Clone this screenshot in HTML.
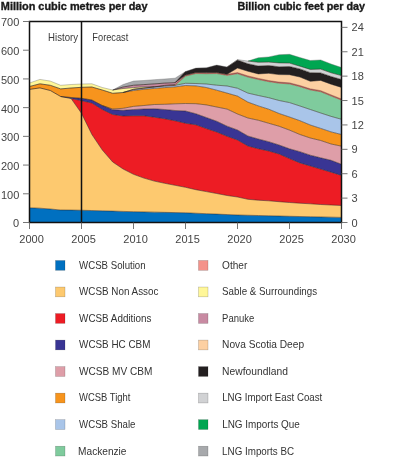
<!DOCTYPE html>
<html><head><meta charset="utf-8"><style>
html,body{margin:0;padding:0;background:#fff;}
svg{display:block;will-change:transform;}
text{font-family:"Liberation Sans",sans-serif;}
</style></head><body>
<svg width="400" height="464" viewBox="0 0 400 464">
<rect width="400" height="464" fill="#fff"/>
<polygon points="29.50,207.80 39.90,208.20 50.30,209.00 60.70,210.00 71.10,210.10 81.50,210.25 91.90,210.54 102.30,210.83 112.70,211.12 123.10,211.41 133.50,211.70 143.90,211.92 154.30,212.14 164.70,212.36 175.10,212.58 185.50,212.80 195.90,213.24 206.30,213.68 216.70,214.12 227.10,214.56 237.50,215.00 247.90,215.26 258.30,215.52 268.70,215.78 279.10,216.04 289.50,216.30 299.90,216.52 310.30,216.74 320.70,216.96 331.10,217.18 341.50,217.40 341.50,222.50 331.10,222.50 320.70,222.50 310.30,222.50 299.90,222.50 289.50,222.50 279.10,222.50 268.70,222.50 258.30,222.50 247.90,222.50 237.50,222.50 227.10,222.50 216.70,222.50 206.30,222.50 195.90,222.50 185.50,222.50 175.10,222.50 164.70,222.50 154.30,222.50 143.90,222.50 133.50,222.50 123.10,222.50 112.70,222.50 102.30,222.50 91.90,222.50 81.50,222.50 71.10,222.50 60.70,222.50 50.30,222.50 39.90,222.50 29.50,222.50" fill="#0070c0"/>
<polygon points="29.50,89.40 39.90,87.90 50.30,90.50 60.70,96.50 71.10,98.50 81.50,113.30 91.90,134.50 102.30,150.00 112.70,162.00 123.10,169.00 133.50,174.30 143.90,178.10 154.30,181.10 164.70,183.30 175.10,185.30 185.50,187.30 195.90,189.70 206.30,191.60 216.70,193.50 227.10,195.50 237.50,197.00 247.90,199.30 258.30,200.20 268.70,200.80 279.10,201.70 289.50,202.50 299.90,203.20 310.30,203.80 320.70,204.50 331.10,205.00 341.50,205.50 341.50,217.40 331.10,217.18 320.70,216.96 310.30,216.74 299.90,216.52 289.50,216.30 279.10,216.04 268.70,215.78 258.30,215.52 247.90,215.26 237.50,215.00 227.10,214.56 216.70,214.12 206.30,213.68 195.90,213.24 185.50,212.80 175.10,212.58 164.70,212.36 154.30,212.14 143.90,211.92 133.50,211.70 123.10,211.41 112.70,211.12 102.30,210.83 91.90,210.54 81.50,210.25 71.10,210.10 60.70,210.00 50.30,209.00 39.90,208.20 29.50,207.80" fill="#fdc96f"/>
<polygon points="29.50,89.40 39.90,87.90 50.30,90.50 60.70,96.50 71.10,98.50 81.50,100.70 91.90,103.00 102.30,109.50 112.70,114.50 123.10,116.00 133.50,115.80 143.90,115.80 154.30,117.20 164.70,118.80 175.10,120.80 185.50,123.30 195.90,124.80 206.30,128.60 216.70,132.00 227.10,136.30 237.50,140.00 247.90,146.00 258.30,148.75 268.70,151.00 279.10,154.00 289.50,158.60 299.90,162.90 310.30,166.00 320.70,169.10 331.10,172.20 341.50,175.40 341.50,205.50 331.10,205.00 320.70,204.50 310.30,203.80 299.90,203.20 289.50,202.50 279.10,201.70 268.70,200.80 258.30,200.20 247.90,199.30 237.50,197.00 227.10,195.50 216.70,193.50 206.30,191.60 195.90,189.70 185.50,187.30 175.10,185.30 164.70,183.30 154.30,181.10 143.90,178.10 133.50,174.30 123.10,169.00 112.70,162.00 102.30,150.00 91.90,134.50 81.50,113.30 71.10,98.50 60.70,96.50 50.30,90.50 39.90,87.90 29.50,89.40" fill="#ed1c24"/>
<polygon points="29.50,89.40 39.90,87.90 50.30,90.50 60.70,96.50 71.10,97.50 81.50,98.30 91.90,100.00 102.30,105.50 112.70,109.80 123.10,110.30 133.50,109.50 143.90,109.00 154.30,108.80 164.70,109.50 175.10,110.50 185.50,111.00 195.90,113.75 206.30,117.50 216.70,121.25 227.10,126.20 237.50,130.00 247.90,136.00 258.30,139.00 268.70,141.70 279.10,145.00 289.50,148.80 299.90,151.70 310.30,155.20 320.70,157.80 331.10,160.30 341.50,164.30 341.50,175.40 331.10,172.20 320.70,169.10 310.30,166.00 299.90,162.90 289.50,158.60 279.10,154.00 268.70,151.00 258.30,148.75 247.90,146.00 237.50,140.00 227.10,136.30 216.70,132.00 206.30,128.60 195.90,124.80 185.50,123.30 175.10,120.80 164.70,118.80 154.30,117.20 143.90,115.80 133.50,115.80 123.10,116.00 112.70,114.50 102.30,109.50 91.90,103.00 81.50,100.70 71.10,98.50 60.70,96.50 50.30,90.50 39.90,87.90 29.50,89.40" fill="#393594"/>
<polygon points="29.50,89.40 39.90,87.90 50.30,90.50 60.70,96.50 71.10,97.50 81.50,98.30 91.90,100.00 102.30,105.50 112.70,109.00 123.10,108.30 133.50,106.40 143.90,105.50 154.30,104.50 164.70,104.30 175.10,103.80 185.50,103.50 195.90,103.70 206.30,104.90 216.70,107.00 227.10,109.10 237.50,114.00 247.90,118.00 258.30,120.25 268.70,123.25 279.10,126.25 289.50,130.10 299.90,134.50 310.30,138.00 320.70,140.50 331.10,144.00 341.50,146.20 341.50,164.30 331.10,160.30 320.70,157.80 310.30,155.20 299.90,151.70 289.50,148.80 279.10,145.00 268.70,141.70 258.30,139.00 247.90,136.00 237.50,130.00 227.10,126.20 216.70,121.25 206.30,117.50 195.90,113.75 185.50,111.00 175.10,110.50 164.70,109.50 154.30,108.80 143.90,109.00 133.50,109.50 123.10,110.30 112.70,109.80 102.30,105.50 91.90,100.00 81.50,98.30 71.10,97.50 60.70,96.50 50.30,90.50 39.90,87.90 29.50,89.40" fill="#de9ea8"/>
<polygon points="29.50,86.50 39.90,83.80 50.30,85.30 60.70,88.90 71.10,88.00 81.50,87.30 91.90,87.00 102.30,90.00 112.70,93.30 123.10,92.50 133.50,90.50 143.90,89.30 154.30,88.40 164.70,87.60 175.10,86.90 185.50,85.50 195.90,85.90 206.30,87.50 216.70,90.20 227.10,93.10 237.50,96.10 247.90,102.10 258.30,105.90 268.70,109.20 279.10,113.50 289.50,117.00 299.90,120.70 310.30,125.00 320.70,128.40 331.10,131.90 341.50,134.50 341.50,146.20 331.10,144.00 320.70,140.50 310.30,138.00 299.90,134.50 289.50,130.10 279.10,126.25 268.70,123.25 258.30,120.25 247.90,118.00 237.50,114.00 227.10,109.10 216.70,107.00 206.30,104.90 195.90,103.70 185.50,103.50 175.10,103.80 164.70,104.30 154.30,104.50 143.90,105.50 133.50,106.40 123.10,108.30 112.70,109.00 102.30,105.50 91.90,100.00 81.50,98.30 71.10,97.50 60.70,96.50 50.30,90.50 39.90,87.90 29.50,89.40" fill="#f7941d"/>
<polygon points="29.50,86.50 39.90,83.80 50.30,85.30 60.70,88.90 71.10,88.00 81.50,87.30 91.90,87.00 102.30,90.00 112.70,93.30 123.10,92.50 133.50,89.50 143.90,88.20 154.30,86.90 164.70,86.10 175.10,85.40 185.50,83.30 195.90,83.50 206.30,84.00 216.70,85.20 227.10,86.00 237.50,88.25 247.90,93.10 258.30,95.50 268.70,97.70 279.10,100.50 289.50,102.60 299.90,106.00 310.30,109.50 320.70,113.00 331.10,116.40 341.50,119.30 341.50,134.50 331.10,131.90 320.70,128.40 310.30,125.00 299.90,120.70 289.50,117.00 279.10,113.50 268.70,109.20 258.30,105.90 247.90,102.10 237.50,96.10 227.10,93.10 216.70,90.20 206.30,87.50 195.90,85.90 185.50,85.50 175.10,86.90 164.70,87.60 154.30,88.40 143.90,89.30 133.50,90.50 123.10,92.50 112.70,93.30 102.30,90.00 91.90,87.00 81.50,87.30 71.10,88.00 60.70,88.90 50.30,85.30 39.90,83.80 29.50,86.50" fill="#a9c5e9"/>
<polygon points="29.50,86.50 39.90,83.80 50.30,85.30 60.70,88.90 71.10,88.00 81.50,87.30 91.90,87.00 102.30,90.00 112.70,93.30 123.10,92.50 133.50,89.50 143.90,88.20 154.30,86.90 164.70,86.10 175.10,85.40 185.50,76.12 195.90,73.55 206.30,73.72 216.70,73.55 227.10,75.40 237.50,73.70 247.90,77.05 258.30,79.50 268.70,81.65 279.10,83.20 289.50,83.95 299.90,86.65 310.30,89.95 320.70,91.75 331.10,96.00 341.50,100.15 341.50,119.30 331.10,116.40 320.70,113.00 310.30,109.50 299.90,106.00 289.50,102.60 279.10,100.50 268.70,97.70 258.30,95.50 247.90,93.10 237.50,88.25 227.10,86.00 216.70,85.20 206.30,84.00 195.90,83.50 185.50,83.30 175.10,85.40 164.70,86.10 154.30,86.90 143.90,88.20 133.50,89.50 123.10,92.50 112.70,93.30 102.30,90.00 91.90,87.00 81.50,87.30 71.10,88.00 60.70,88.90 50.30,85.30 39.90,83.80 29.50,86.50" fill="#7fcb9d"/>
<polygon points="29.50,86.50 39.90,83.80 50.30,85.30 60.70,88.90 71.10,88.00 81.50,87.30 91.90,87.00 102.30,90.00 112.70,93.30 123.10,92.50 133.50,89.20 143.90,87.90 154.30,86.90 164.70,85.40 175.10,84.50 185.50,75.58 195.90,73.00 206.30,73.17 216.70,73.00 227.10,74.85 237.50,73.15 247.90,76.50 258.30,78.95 268.70,81.10 279.10,82.65 289.50,83.40 299.90,86.10 310.30,89.40 320.70,91.20 331.10,95.45 341.50,99.60 341.50,100.15 331.10,96.00 320.70,91.75 310.30,89.95 299.90,86.65 289.50,83.95 279.10,83.20 268.70,81.65 258.30,79.50 247.90,77.05 237.50,73.70 227.10,75.40 216.70,73.55 206.30,73.72 195.90,73.55 185.50,76.12 175.10,85.40 164.70,86.10 154.30,86.90 143.90,88.20 133.50,89.50 123.10,92.50 112.70,93.30 102.30,90.00 91.90,87.00 81.50,87.30 71.10,88.00 60.70,88.90 50.30,85.30 39.90,83.80 29.50,86.50" fill="#f4928a"/>
<polygon points="29.50,83.00 39.90,79.40 50.30,81.10 60.70,85.30 71.10,84.50 81.50,84.00 91.90,83.80 102.30,87.50 112.70,90.00 123.10,88.50 133.50,87.60 143.90,86.80 154.30,86.90 164.70,85.40 175.10,84.50 185.50,75.58 195.90,73.00 206.30,73.17 216.70,73.00 227.10,74.85 237.50,73.15 247.90,76.50 258.30,78.95 268.70,81.10 279.10,82.65 289.50,83.40 299.90,86.10 310.30,89.40 320.70,91.20 331.10,95.45 341.50,99.60 341.50,99.60 331.10,95.45 320.70,91.20 310.30,89.40 299.90,86.10 289.50,83.40 279.10,82.65 268.70,81.10 258.30,78.95 247.90,76.50 237.50,73.15 227.10,74.85 216.70,73.00 206.30,73.17 195.90,73.00 185.50,75.58 175.10,84.50 164.70,85.40 154.30,86.90 143.90,87.90 133.50,89.20 123.10,92.50 112.70,93.30 102.30,90.00 91.90,87.00 81.50,87.30 71.10,88.00 60.70,88.90 50.30,85.30 39.90,83.80 29.50,86.50" fill="#fff799"/>
<polygon points="29.50,83.00 39.90,79.40 50.30,81.10 60.70,85.30 71.10,84.50 81.50,84.00 91.90,83.80 102.30,87.50 112.70,90.00 123.10,87.00 133.50,85.25 143.90,84.60 154.30,83.90 164.70,83.10 175.10,82.60 185.50,75.03 195.90,72.45 206.30,72.62 216.70,72.45 227.10,74.30 237.50,72.60 247.90,75.95 258.30,78.40 268.70,80.55 279.10,82.10 289.50,82.85 299.90,85.55 310.30,88.85 320.70,90.65 331.10,94.90 341.50,99.05 341.50,99.60 331.10,95.45 320.70,91.20 310.30,89.40 299.90,86.10 289.50,83.40 279.10,82.65 268.70,81.10 258.30,78.95 247.90,76.50 237.50,73.15 227.10,74.85 216.70,73.00 206.30,73.17 195.90,73.00 185.50,75.58 175.10,84.50 164.70,85.40 154.30,86.90 143.90,86.80 133.50,87.60 123.10,88.50 112.70,90.00 102.30,87.50 91.90,83.80 81.50,84.00 71.10,84.50 60.70,85.30 50.30,81.10 39.90,79.40 29.50,83.00" fill="#c88aa2"/>
<polygon points="29.50,83.00 39.90,79.40 50.30,81.10 60.70,85.30 71.10,84.50 81.50,84.00 91.90,83.80 102.30,87.50 112.70,90.00 123.10,87.00 133.50,85.25 143.90,84.60 154.30,83.90 164.70,83.10 175.10,82.60 185.50,75.03 195.90,72.45 206.30,72.62 216.70,72.45 227.10,74.30 237.50,68.00 247.90,71.25 258.30,73.90 268.70,73.30 279.10,74.60 289.50,74.70 299.90,77.00 310.30,81.30 320.70,80.40 331.10,84.20 341.50,87.40 341.50,99.05 331.10,94.90 320.70,90.65 310.30,88.85 299.90,85.55 289.50,82.85 279.10,82.10 268.70,80.55 258.30,78.40 247.90,75.95 237.50,72.60 227.10,74.30 216.70,72.45 206.30,72.62 195.90,72.45 185.50,75.03 175.10,82.60 164.70,83.10 154.30,83.90 143.90,84.60 133.50,85.25 123.10,87.00 112.70,90.00 102.30,87.50 91.90,83.80 81.50,84.00 71.10,84.50 60.70,85.30 50.30,81.10 39.90,79.40 29.50,83.00" fill="#fdd0a2"/>
<polygon points="29.50,83.00 39.90,79.40 50.30,81.10 60.70,85.30 71.10,84.50 81.50,84.00 91.90,83.80 102.30,87.50 112.70,90.00 123.10,87.00 133.50,85.25 143.90,84.60 154.30,83.90 164.70,83.10 175.10,82.60 185.50,71.50 195.90,68.10 206.30,67.75 216.70,65.10 227.10,67.00 237.50,60.00 247.90,63.75 258.30,66.00 268.70,65.50 279.10,66.80 289.50,66.50 299.90,68.90 310.30,72.65 320.70,72.90 331.10,76.50 341.50,79.50 341.50,87.40 331.10,84.20 320.70,80.40 310.30,81.30 299.90,77.00 289.50,74.70 279.10,74.60 268.70,73.30 258.30,73.90 247.90,71.25 237.50,68.00 227.10,74.30 216.70,72.45 206.30,72.62 195.90,72.45 185.50,75.03 175.10,82.60 164.70,83.10 154.30,83.90 143.90,84.60 133.50,85.25 123.10,87.00 112.70,90.00 102.30,87.50 91.90,83.80 81.50,84.00 71.10,84.50 60.70,85.30 50.30,81.10 39.90,79.40 29.50,83.00" fill="#231f20"/>
<polygon points="29.50,83.00 39.90,79.40 50.30,81.10 60.70,85.30 71.10,84.50 81.50,84.00 91.90,83.80 102.30,87.50 112.70,90.00 123.10,87.00 133.50,85.25 143.90,84.60 154.30,83.90 164.70,83.10 175.10,82.60 185.50,71.50 195.90,68.10 206.30,67.75 216.70,65.10 227.10,67.00 237.50,59.60 247.90,61.10 258.30,62.25 268.70,62.10 279.10,62.90 289.50,63.10 299.90,66.20 310.30,69.40 320.70,69.10 331.10,72.80 341.50,75.60 341.50,79.50 331.10,76.50 320.70,72.90 310.30,72.65 299.90,68.90 289.50,66.50 279.10,66.80 268.70,65.50 258.30,66.00 247.90,63.75 237.50,60.00 227.10,67.00 216.70,65.10 206.30,67.75 195.90,68.10 185.50,71.50 175.10,82.60 164.70,83.10 154.30,83.90 143.90,84.60 133.50,85.25 123.10,87.00 112.70,90.00 102.30,87.50 91.90,83.80 81.50,84.00 71.10,84.50 60.70,85.30 50.30,81.10 39.90,79.40 29.50,83.00" fill="#d1d2d4"/>
<polygon points="29.50,83.00 39.90,79.40 50.30,81.10 60.70,85.30 71.10,84.50 81.50,84.00 91.90,83.80 102.30,87.50 112.70,90.00 123.10,87.00 133.50,85.25 143.90,84.60 154.30,83.90 164.70,83.10 175.10,82.60 185.50,71.50 195.90,68.10 206.30,67.75 216.70,65.10 227.10,67.00 237.50,59.60 247.90,61.10 258.30,57.75 268.70,56.90 279.10,54.70 289.50,54.30 299.90,57.50 310.30,60.50 320.70,59.90 331.10,64.00 341.50,67.50 341.50,75.60 331.10,72.80 320.70,69.10 310.30,69.40 299.90,66.20 289.50,63.10 279.10,62.90 268.70,62.10 258.30,62.25 247.90,61.10 237.50,59.60 227.10,67.00 216.70,65.10 206.30,67.75 195.90,68.10 185.50,71.50 175.10,82.60 164.70,83.10 154.30,83.90 143.90,84.60 133.50,85.25 123.10,87.00 112.70,90.00 102.30,87.50 91.90,83.80 81.50,84.00 71.10,84.50 60.70,85.30 50.30,81.10 39.90,79.40 29.50,83.00" fill="#00a651"/>
<polygon points="29.50,83.00 39.90,79.40 50.30,81.10 60.70,85.30 71.10,84.50 81.50,84.00 91.90,83.80 102.30,87.50 112.70,90.00 123.10,84.50 133.50,81.10 143.90,80.50 154.30,79.70 164.70,79.00 175.10,78.20 185.50,71.50 195.90,68.10 206.30,67.75 216.70,65.10 227.10,67.00 237.50,59.60 247.90,61.10 258.30,57.75 268.70,56.90 279.10,54.70 289.50,54.30 299.90,57.50 310.30,60.50 320.70,59.90 331.10,64.00 341.50,67.50 341.50,67.50 331.10,64.00 320.70,59.90 310.30,60.50 299.90,57.50 289.50,54.30 279.10,54.70 268.70,56.90 258.30,57.75 247.90,61.10 237.50,59.60 227.10,67.00 216.70,65.10 206.30,67.75 195.90,68.10 185.50,71.50 175.10,82.60 164.70,83.10 154.30,83.90 143.90,84.60 133.50,85.25 123.10,87.00 112.70,90.00 102.30,87.50 91.90,83.80 81.50,84.00 71.10,84.50 60.70,85.30 50.30,81.10 39.90,79.40 29.50,83.00" fill="#a7a9ac"/>
<g fill="none" stroke-width="0.7" stroke-linejoin="round"><path d="M175.10,85.40 L185.50,76.12 L195.90,73.55 L206.30,73.72 L216.70,73.55 L227.10,75.40 L237.50,73.70 L247.90,77.05 L258.30,79.50 L268.70,81.65 L279.10,83.20 L289.50,83.95 L299.90,86.65 L310.30,89.95 L320.70,91.75 L331.10,96.00 L341.50,100.15 M227.10,74.30 L237.50,72.60 L247.90,75.95 L258.30,78.40 L268.70,80.55 L279.10,82.10 L289.50,82.85 L299.90,85.55 L310.30,88.85 L320.70,90.65 L331.10,94.90 L341.50,99.05" stroke="#7a3020" stroke-opacity="0.60"/>
<path d="M175.10,84.50 L185.50,75.58 L195.90,73.00 L206.30,73.17 L216.70,73.00 L227.10,74.85 L237.50,73.15 L247.90,76.50 L258.30,78.95 L268.70,81.10 L279.10,82.65 L289.50,83.40 L299.90,86.10 L310.30,89.40 L320.70,91.20 L331.10,95.45 L341.50,99.60" stroke="#7a3020" stroke-opacity="0.75"/>
<path d="M29.50,207.80 L39.90,208.20 L50.30,209.00 L60.70,210.00 L71.10,210.10 L81.50,210.25 L91.90,210.54 L102.30,210.83 L112.70,211.12 L123.10,211.41 L133.50,211.70 L143.90,211.92 L154.30,212.14 L164.70,212.36 L175.10,212.58 L185.50,212.80 L195.90,213.24 L206.30,213.68 L216.70,214.12 L227.10,214.56 L237.50,215.00 L247.90,215.26 L258.30,215.52 L268.70,215.78 L279.10,216.04 L289.50,216.30 L299.90,216.52 L310.30,216.74 L320.70,216.96 L331.10,217.18 L341.50,217.40 M71.10,98.50 L81.50,113.30 L91.90,134.50 L102.30,150.00 L112.70,162.00 L123.10,169.00 L133.50,174.30 L143.90,178.10 L154.30,181.10 L164.70,183.30 L175.10,185.30 L185.50,187.30 L195.90,189.70 L206.30,191.60 L216.70,193.50 L227.10,195.50 L237.50,197.00 L247.90,199.30 L258.30,200.20 L268.70,200.80 L279.10,201.70 L289.50,202.50 L299.90,203.20 L310.30,203.80 L320.70,204.50 L331.10,205.00 L341.50,205.50 M71.10,98.50 L81.50,100.70 L91.90,103.00 L102.30,109.50 L112.70,114.50 L123.10,116.00 L133.50,115.80 L143.90,115.80 L154.30,117.20 L164.70,118.80 L175.10,120.80 L185.50,123.30 L195.90,124.80 L206.30,128.60 L216.70,132.00 L227.10,136.30 L237.50,140.00 L247.90,146.00 L258.30,148.75 L268.70,151.00 L279.10,154.00 L289.50,158.60 L299.90,162.90 L310.30,166.00 L320.70,169.10 L331.10,172.20 L341.50,175.40 M102.30,105.50 L112.70,109.80 L123.10,110.30 L133.50,109.50 L143.90,109.00 L154.30,108.80 L164.70,109.50 L175.10,110.50 L185.50,111.00 L195.90,113.75 L206.30,117.50 L216.70,121.25 L227.10,126.20 L237.50,130.00 L247.90,136.00 L258.30,139.00 L268.70,141.70 L279.10,145.00 L289.50,148.80 L299.90,151.70 L310.30,155.20 L320.70,157.80 L331.10,160.30 L341.50,164.30 M102.30,105.50 L112.70,109.00 L123.10,108.30 L133.50,106.40 L143.90,105.50 L154.30,104.50 L164.70,104.30 L175.10,103.80 L185.50,103.50 L195.90,103.70 L206.30,104.90 L216.70,107.00 L227.10,109.10 L237.50,114.00 L247.90,118.00 L258.30,120.25 L268.70,123.25 L279.10,126.25 L289.50,130.10 L299.90,134.50 L310.30,138.00 L320.70,140.50 L331.10,144.00 L341.50,146.20 M123.10,92.50 L133.50,90.50 L143.90,89.30 L154.30,88.40 L164.70,87.60 L175.10,86.90 L185.50,85.50 L195.90,85.90 L206.30,87.50 L216.70,90.20 L227.10,93.10 L237.50,96.10 L247.90,102.10 L258.30,105.90 L268.70,109.20 L279.10,113.50 L289.50,117.00 L299.90,120.70 L310.30,125.00 L320.70,128.40 L331.10,131.90 L341.50,134.50 M175.10,85.40 L185.50,83.30 L195.90,83.50 L206.30,84.00 L216.70,85.20 L227.10,86.00 L237.50,88.25 L247.90,93.10 L258.30,95.50 L268.70,97.70 L279.10,100.50 L289.50,102.60 L299.90,106.00 L310.30,109.50 L320.70,113.00 L331.10,116.40 L341.50,119.30 M123.10,92.50 L133.50,89.20 L143.90,87.90 L154.30,86.90 M112.70,90.00 L123.10,88.50 L133.50,87.60 L143.90,86.80 L154.30,86.90 M227.10,74.30 L237.50,68.00 L247.90,71.25 L258.30,73.90 L268.70,73.30 L279.10,74.60 L289.50,74.70 L299.90,77.00 L310.30,81.30 L320.70,80.40 L331.10,84.20 L341.50,87.40 M227.10,67.00 L237.50,60.00 L247.90,63.75 L258.30,66.00 L268.70,65.50 L279.10,66.80 L289.50,66.50 L299.90,68.90 L310.30,72.65 L320.70,72.90 L331.10,76.50 L341.50,79.50 M247.90,61.10 L258.30,62.25 L268.70,62.10 L279.10,62.90 L289.50,63.10 L299.90,66.20 L310.30,69.40 L320.70,69.10 L331.10,72.80 L341.50,75.60" stroke="#2a1e18" stroke-opacity="0.72"/>
<path d="M60.70,96.50 L71.10,98.50 M60.70,96.50 L71.10,97.50 L81.50,98.30 L91.90,100.00 L102.30,105.50 M123.10,92.50 L133.50,89.50 L143.90,88.20 L154.30,86.90 L164.70,86.10 L175.10,85.40 M154.30,86.90 L164.70,85.40 L175.10,84.50 M175.10,82.60 L185.50,75.03 L195.90,72.45 L206.30,72.62 L216.70,72.45 L227.10,74.30" stroke="#2a1e18" stroke-opacity="0.90"/>
<path d="M29.50,89.40 L39.90,87.90 L50.30,90.50 L60.70,96.50 M29.50,86.50 L39.90,83.80 L50.30,85.30 L60.70,88.90 L71.10,88.00 L81.50,87.30 L91.90,87.00 L102.30,90.00 L112.70,93.30 L123.10,92.50 M112.70,90.00 L123.10,87.00 L133.50,85.25 L143.90,84.60 L154.30,83.90 L164.70,83.10 L175.10,82.60 L185.50,71.50" stroke="#2a1e18" stroke-opacity="0.96"/></g><polyline points="29.50,83.00 39.90,79.40 50.30,81.10 60.70,85.30 71.10,84.50 81.50,84.00 91.90,83.80 102.30,87.50 112.70,90.00 123.10,84.50 133.50,81.10 143.90,80.50 154.30,79.70 164.70,79.00 175.10,78.20 185.50,71.50 195.90,68.10 206.30,67.75 216.70,65.10 227.10,67.00 237.50,59.60 247.90,61.10 258.30,57.75 268.70,56.90 279.10,54.70 289.50,54.30 299.90,57.50 310.30,60.50 320.70,59.90 331.10,64.00 341.50,67.50" fill="none" stroke="#666" stroke-width="0.5" stroke-opacity="0.75"/>
<path d="M29.5,21.5 H341.5 V222.5 H29.5 Z M81.5,21.5 V222.5" fill="none" stroke="#111" stroke-width="1.5"/>
<path d="M23,222.50H29.5 M23,193.79H29.5 M23,165.07H29.5 M23,136.36H29.5 M23,107.64H29.5 M23,78.93H29.5 M23,50.21H29.5 M23,21.50H29.5 M341.5,222.50H347.5 M341.5,198.11H347.5 M341.5,173.71H347.5 M341.5,149.32H347.5 M341.5,124.93H347.5 M341.5,100.54H347.5 M341.5,76.14H347.5 M341.5,51.75H347.5 M341.5,27.36H347.5 M29.50,222.5V229 M81.50,222.5V229 M133.50,222.5V229 M185.50,222.5V229 M237.50,222.5V229 M289.50,222.5V229 M341.50,222.5V229" stroke="#666" stroke-width="0.9" fill="none"/>
<rect x="55.5" y="260.50" width="9.5" height="9.8" fill="#0070c0" stroke="#000" stroke-opacity="0.3" stroke-width="0.5"/>
<rect x="198.5" y="260.50" width="9.5" height="9.8" fill="#f4928a" stroke="#000" stroke-opacity="0.3" stroke-width="0.5"/>
<rect x="55.5" y="287.03" width="9.5" height="9.8" fill="#fdc96f" stroke="#000" stroke-opacity="0.3" stroke-width="0.5"/>
<rect x="198.5" y="287.03" width="9.5" height="9.8" fill="#fff799" stroke="#000" stroke-opacity="0.3" stroke-width="0.5"/>
<rect x="55.5" y="313.56" width="9.5" height="9.8" fill="#ed1c24" stroke="#000" stroke-opacity="0.3" stroke-width="0.5"/>
<rect x="198.5" y="313.56" width="9.5" height="9.8" fill="#c88aa2" stroke="#000" stroke-opacity="0.3" stroke-width="0.5"/>
<rect x="55.5" y="340.09" width="9.5" height="9.8" fill="#393594" stroke="#000" stroke-opacity="0.3" stroke-width="0.5"/>
<rect x="198.5" y="340.09" width="9.5" height="9.8" fill="#fdd0a2" stroke="#000" stroke-opacity="0.3" stroke-width="0.5"/>
<rect x="55.5" y="366.62" width="9.5" height="9.8" fill="#de9ea8" stroke="#000" stroke-opacity="0.3" stroke-width="0.5"/>
<rect x="198.5" y="366.62" width="9.5" height="9.8" fill="#231f20" stroke="#000" stroke-opacity="0.3" stroke-width="0.5"/>
<rect x="55.5" y="393.15" width="9.5" height="9.8" fill="#f7941d" stroke="#000" stroke-opacity="0.3" stroke-width="0.5"/>
<rect x="198.5" y="393.15" width="9.5" height="9.8" fill="#d1d2d4" stroke="#000" stroke-opacity="0.3" stroke-width="0.5"/>
<rect x="55.5" y="419.68" width="9.5" height="9.8" fill="#a9c5e9" stroke="#000" stroke-opacity="0.3" stroke-width="0.5"/>
<rect x="198.5" y="419.68" width="9.5" height="9.8" fill="#00a651" stroke="#000" stroke-opacity="0.3" stroke-width="0.5"/>
<rect x="55.5" y="446.21" width="9.5" height="9.8" fill="#7fcb9d" stroke="#000" stroke-opacity="0.3" stroke-width="0.5"/>
<rect x="198.5" y="446.21" width="9.5" height="9.8" fill="#a7a9ac" stroke="#000" stroke-opacity="0.3" stroke-width="0.5"/>
<g font-size="11" fill="#333">
<text x="0.80" y="10.20" font-size="10.5" font-weight="bold" fill="#1a1a1a" stroke="#1a1a1a" stroke-width="0.35" textLength="146.70" lengthAdjust="spacingAndGlyphs">Million cubic metres per day</text>
<text x="237.50" y="10.20" font-size="10.5" font-weight="bold" fill="#1a1a1a" stroke="#1a1a1a" stroke-width="0.35" textLength="127.50" lengthAdjust="spacingAndGlyphs">Billion cubic feet per day</text>
<text x="13.10" y="227.40" fill="#444">0</text>
<text x="0.90" y="198.69" fill="#444">100</text>
<text x="0.90" y="169.97" fill="#444">200</text>
<text x="0.90" y="141.26" fill="#444">300</text>
<text x="0.90" y="112.54" fill="#444">400</text>
<text x="0.90" y="83.83" fill="#444">500</text>
<text x="0.90" y="55.11" fill="#444">600</text>
<text x="0.90" y="26.40" fill="#444">700</text>
<text x="351.60" y="226.60" fill="#444">0</text>
<text x="351.60" y="202.21" fill="#444">3</text>
<text x="351.60" y="177.81" fill="#444">6</text>
<text x="351.60" y="153.42" fill="#444">9</text>
<text x="351.60" y="129.03" fill="#444">12</text>
<text x="351.60" y="104.64" fill="#444">15</text>
<text x="351.60" y="80.24" fill="#444">18</text>
<text x="351.60" y="55.85" fill="#444">21</text>
<text x="351.60" y="31.46" fill="#444">24</text>
<text x="19.30" y="242.60" fill="#444">2000</text>
<text x="71.30" y="242.60" fill="#444">2005</text>
<text x="123.30" y="242.60" fill="#444">2010</text>
<text x="175.30" y="242.60" fill="#444">2015</text>
<text x="227.30" y="242.60" fill="#444">2020</text>
<text x="279.30" y="242.60" fill="#444">2025</text>
<text x="331.30" y="242.60" fill="#444">2030</text>
<text x="48.09" y="40.70" font-size="10.5" fill="#3a3a3a" textLength="29.91" lengthAdjust="spacingAndGlyphs">History</text>
<text x="92.36" y="40.90" font-size="10.5" fill="#3a3a3a" textLength="35.96" lengthAdjust="spacingAndGlyphs">Forecast</text>
<text x="79.07" y="268.80" font-size="10.2" textLength="66.54" lengthAdjust="spacingAndGlyphs">WCSB Solution</text>
<text x="222.10" y="268.80" font-size="10.2" textLength="25.23" lengthAdjust="spacingAndGlyphs">Other</text>
<text x="79.08" y="295.33" font-size="10.2" textLength="79.34" lengthAdjust="spacingAndGlyphs">WCSB Non Assoc</text>
<text x="222.12" y="295.33" font-size="10.2" textLength="94.93" lengthAdjust="spacingAndGlyphs">Sable &amp; Surroundings</text>
<text x="79.08" y="321.86" font-size="10.2" textLength="72.34" lengthAdjust="spacingAndGlyphs">WCSB Additions</text>
<text x="222.12" y="321.86" font-size="10.2" textLength="32.15" lengthAdjust="spacingAndGlyphs">Panuke</text>
<text x="79.07" y="348.39" font-size="10.2" textLength="71.37" lengthAdjust="spacingAndGlyphs">WCSB HC CBM</text>
<text x="222.12" y="348.39" font-size="10.2" textLength="81.96" lengthAdjust="spacingAndGlyphs">Nova Scotia Deep</text>
<text x="79.08" y="374.92" font-size="10.2" textLength="73.38" lengthAdjust="spacingAndGlyphs">WCSB MV CBM</text>
<text x="222.12" y="374.92" font-size="10.2" textLength="65.78" lengthAdjust="spacingAndGlyphs">Newfoundland</text>
<text x="79.06" y="401.45" font-size="10.2" textLength="51.35" lengthAdjust="spacingAndGlyphs">WCSB Tight</text>
<text x="222.14" y="401.45" font-size="10.2" textLength="100.13" lengthAdjust="spacingAndGlyphs">LNG Import East Coast</text>
<text x="79.06" y="427.98" font-size="10.2" textLength="56.36" lengthAdjust="spacingAndGlyphs">WCSB Shale</text>
<text x="222.13" y="427.98" font-size="10.2" textLength="77.74" lengthAdjust="spacingAndGlyphs">LNG Imports Que</text>
<text x="78.12" y="454.51" font-size="10.2" textLength="48.40" lengthAdjust="spacingAndGlyphs">Mackenzie</text>
<text x="222.10" y="454.51" font-size="10.2" textLength="71.94" lengthAdjust="spacingAndGlyphs">LNG Imports BC</text>
</g>
</svg>
</body></html>
